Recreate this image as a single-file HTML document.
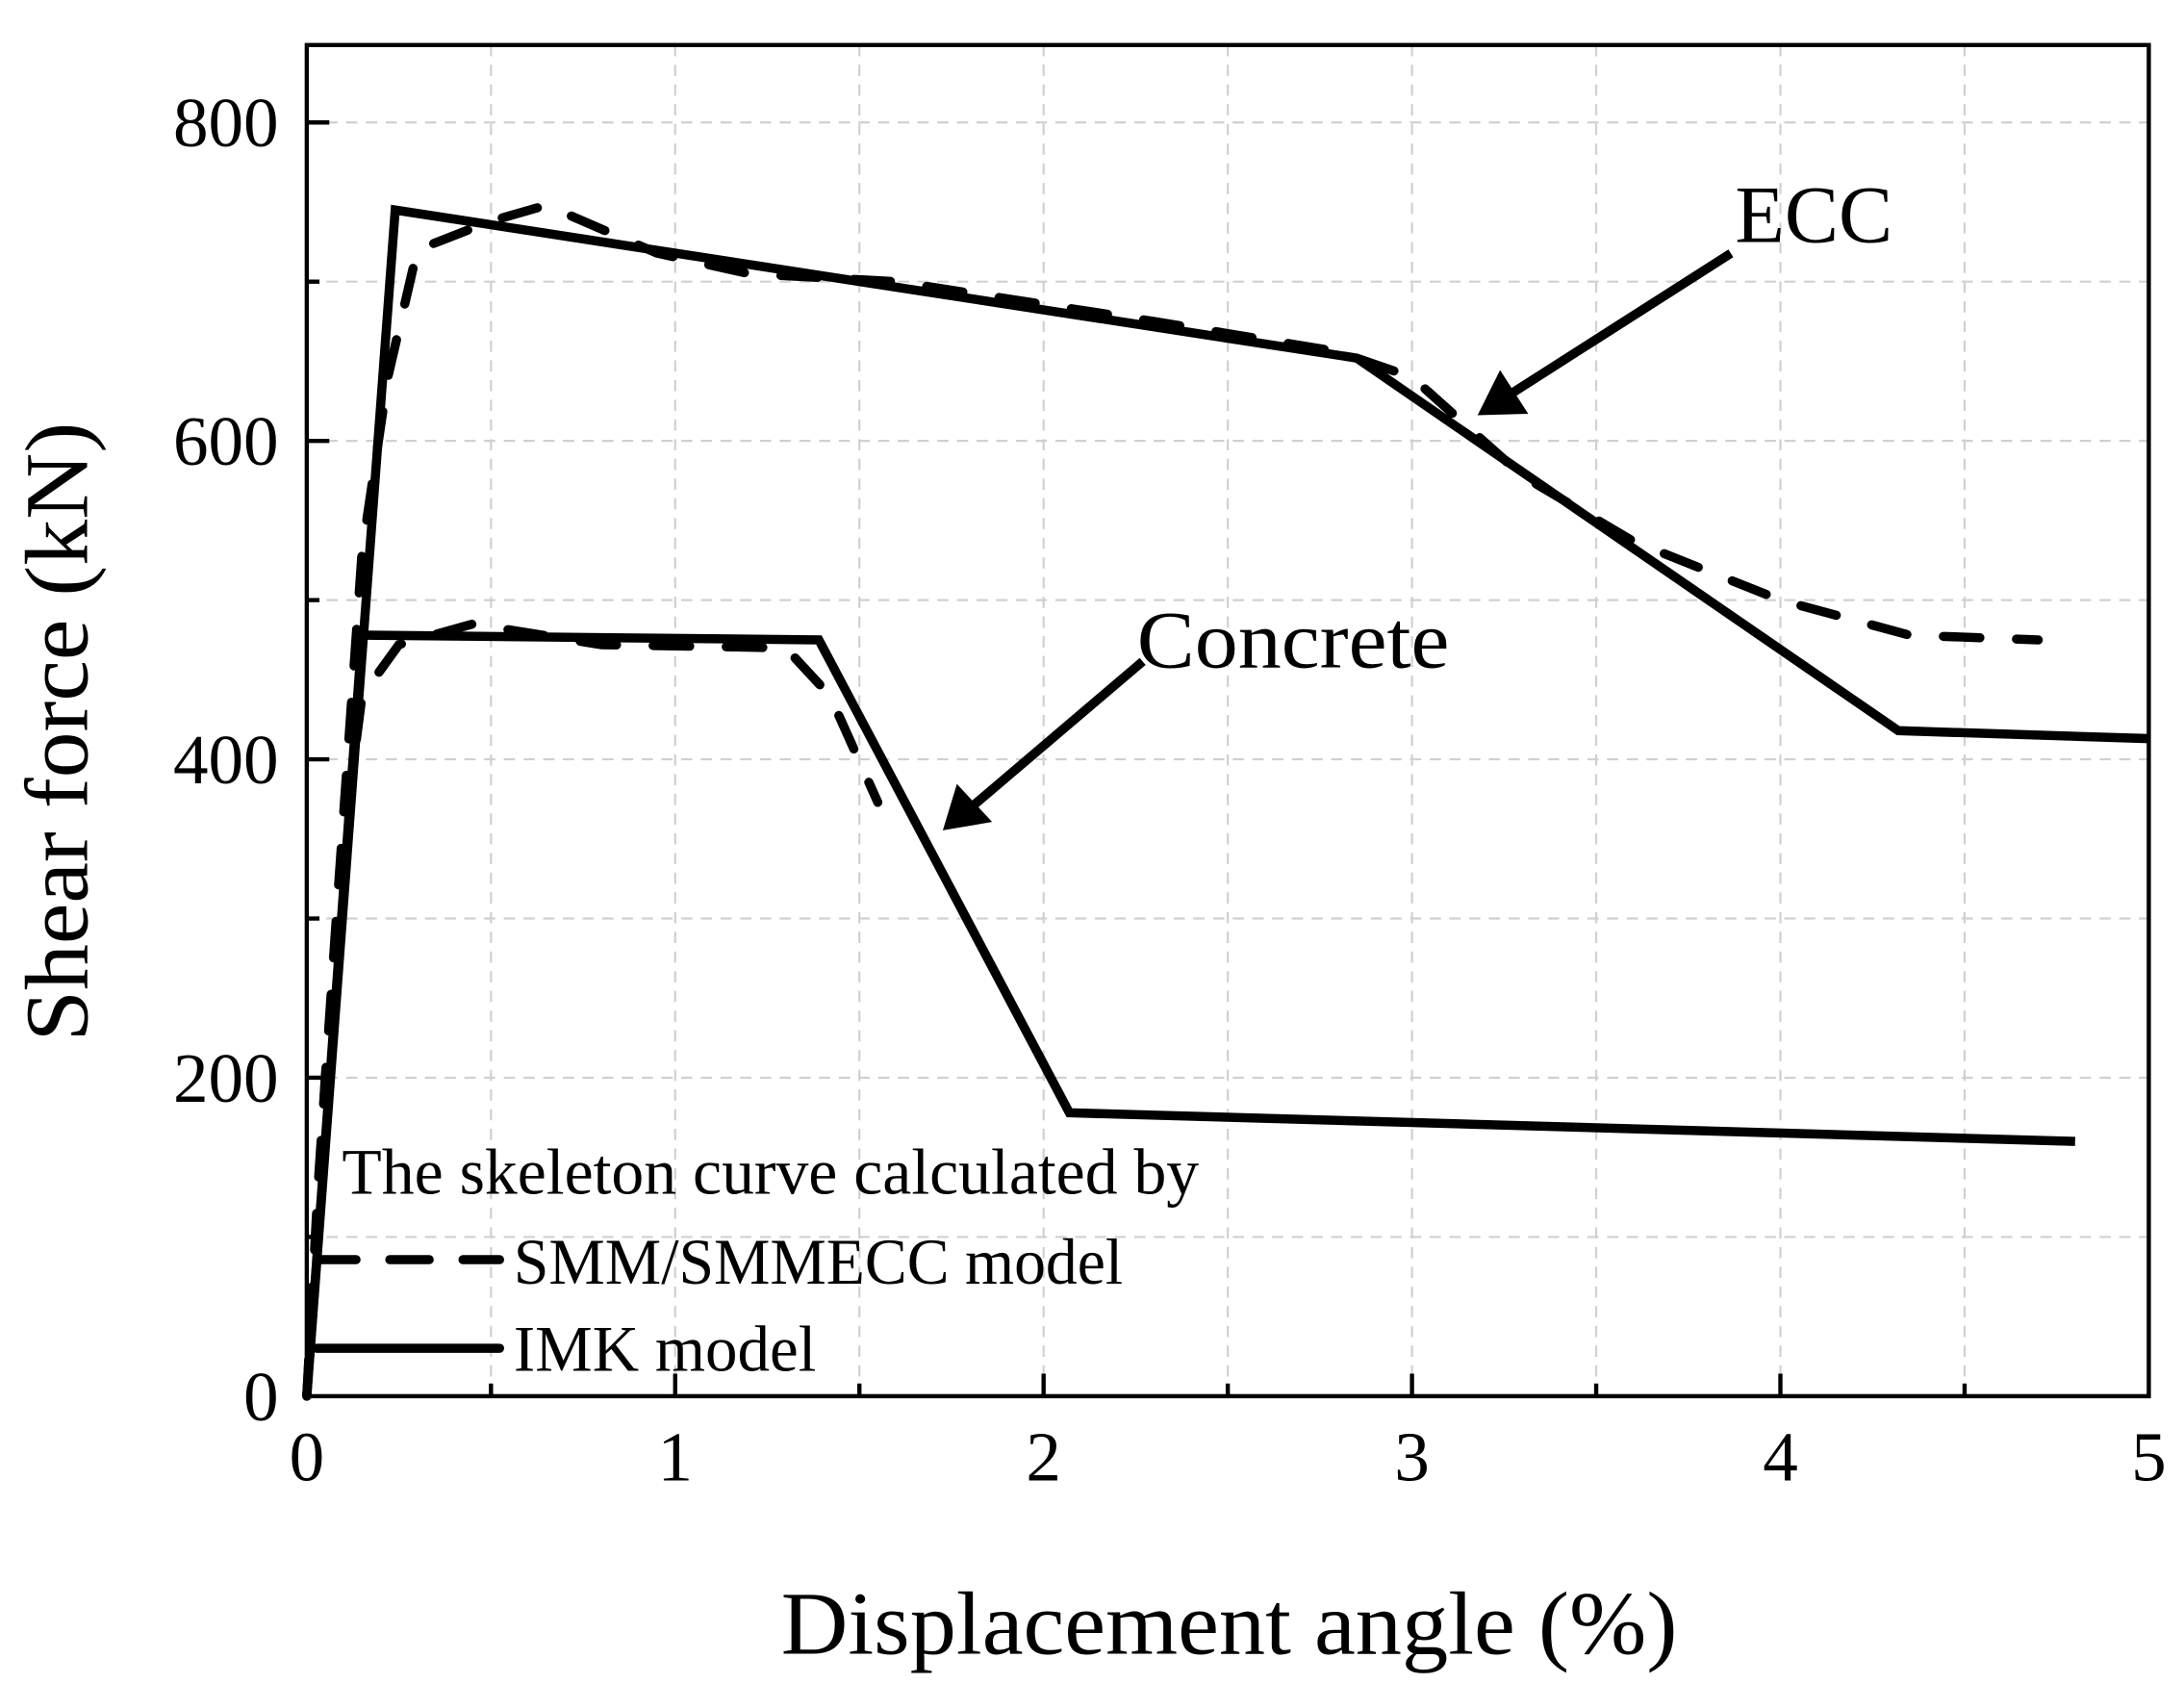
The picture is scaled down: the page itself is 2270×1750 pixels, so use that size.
<!DOCTYPE html>
<html><head><meta charset="utf-8"><style>
html,body{margin:0;padding:0;background:#fff;}
svg{display:block;font-family:"Liberation Serif",serif;}
</style></head><body>
<svg id="chart" width="2270" height="1750" viewBox="0 0 1552 1196.5" xmlns="http://www.w3.org/2000/svg">
<g id="grid"></g>
<g id="series"></g>
<g id="axes"></g>
<text x="555" y="1175" font-size="64" textLength="637" lengthAdjust="spacingAndGlyphs">Displacement angle (%)</text>
<text transform="translate(62,740) rotate(-90)" font-size="64" textLength="440" lengthAdjust="spacingAndGlyphs">Shear force (kN)</text>
<g>
<text x="243" y="848" font-size="46" textLength="609" lengthAdjust="spacingAndGlyphs">The skeleton curve calculated by</text>
<line x1="225" y1="895" x2="355" y2="895" stroke="#000" stroke-width="6.5" stroke-dasharray="28,24" stroke-linecap="round"/>
<text x="365" y="912" font-size="46" textLength="433" lengthAdjust="spacingAndGlyphs">SMM/SMMECC model</text>
<line x1="225" y1="958" x2="355" y2="958" stroke="#000" stroke-width="6.5" stroke-linecap="round"/>
<text x="365" y="974" font-size="46" textLength="215" lengthAdjust="spacingAndGlyphs">IMK model</text>
</g>
<g>
<text x="1233" y="172" font-size="58" textLength="112" lengthAdjust="spacingAndGlyphs">ECC</text>
<line x1="1230" y1="180" x2="1075" y2="279" stroke="#000" stroke-width="6.5"/>
<polygon points="1050,295 1066,263 1086,294" fill="#000"/>
</g>
<g>
<text x="808" y="474" font-size="58" textLength="222" lengthAdjust="spacingAndGlyphs">Concrete</text>
<line x1="812" y1="470" x2="692" y2="572" stroke="#000" stroke-width="6.5"/>
<polygon points="670,590 680,557 705,584" fill="#000"/>
</g>
</svg>
<script>
const xTicks = [0, 1, 2, 3, 4, 5];
const yTicks = [0, 200, 400, 600, 800];
const eccImkX = [0, 0.24, 2.85, 4.32, 5.0];
const eccImkY = [0, 745, 652, 418, 413];
const conImkX = [0, 0.15, 1.39, 2.07, 4.8];
const conImkY = [0, 478, 475, 178, 160];
const eccSmmX = [0, 0.03, 0.08, 0.15, 0.22, 0.3, 0.5, 0.65, 0.95, 1.2, 1.6, 2.3, 2.8, 3.0, 3.3, 3.6, 4.0, 4.35, 4.7];
const eccSmmY = [0, 130, 300, 530, 640, 720, 738, 748, 718, 705, 700, 675, 656, 640, 578, 537, 500, 478, 475];
const conSmmX = [0, 0.05, 0.1, 0.15, 0.25, 0.45, 0.8, 1.3, 1.42, 1.55];
const conSmmY = [0, 200, 350, 440, 472, 485, 472, 470, 440, 373];

const L = 218, R = 1527, T = 32, B = 992;
const xs = v => L + (R - L) * v / 5;
const ys = v => B - (B - 87) * v / 800;
const NS = 'http://www.w3.org/2000/svg';
function mk(tag, attrs, parent) {
  const e = document.createElementNS(NS, tag);
  for (const k in attrs) e.setAttribute(k, attrs[k]);
  parent.appendChild(e);
  return e;
}
const grid = document.getElementById('grid');
const axes = document.getElementById('axes');
const series = document.getElementById('series');

for (let v = 0.5; v < 5; v += 0.5) {
  const g = mk('line', {x1: xs(v), x2: xs(v), y1: T, y2: B, stroke: '#d0d0d0', 'stroke-width': 1.5, 'stroke-dasharray': '8,6'}, grid);
  
  
}
for (let v = 100; v < 860; v += 100) {
  const g = mk('line', {x1: L, x2: R, y1: ys(v), y2: ys(v), stroke: '#d0d0d0', 'stroke-width': 1.5, 'stroke-dasharray': '8,6'}, grid);
  
  
}

function poly(xa, ya, dashed, name) {
  const pts = xa.map((x, i) => xs(x) + ',' + ys(ya[i])).join(' ');
  const p = mk('polyline', {points: pts, fill: 'none', stroke: '#000', 'stroke-width': 6.5, 'stroke-linejoin': 'miter', 'stroke-linecap': dashed ? 'round' : 'butt'}, series);
  if (dashed) p.setAttribute('stroke-dasharray', '26,26');
  
  
}
poly(eccSmmX, eccSmmY, true, 'ecc-smm-line');
poly(conSmmX, conSmmY, true, 'concrete-smm-line');
poly(eccImkX, eccImkY, false, 'ecc-imk-line');
poly(conImkX, conImkY, false, 'concrete-imk-line');

const frame = mk('rect', {x: L, y: T, width: R - L, height: B - T, fill: 'none', stroke: '#000', 'stroke-width': 3}, axes);



for (let v = 0.5; v < 5; v += 0.5) {
  const major = Math.abs(v - Math.round(v)) < 1e-9;
  const t = mk('line', {x1: xs(v), x2: xs(v), y1: B, y2: B - (major ? 16 : 9), stroke: '#000', 'stroke-width': 3}, axes);
  
  
}
for (let v = 100; v < 860; v += 100) {
  const major = v % 200 === 0;
  const t = mk('line', {x1: L, x2: L + (major ? 16 : 9), y1: ys(v), y2: ys(v), stroke: '#000', 'stroke-width': 3}, axes);
  
  
}
xTicks.forEach(v => {
  const t = mk('text', {x: xs(v), y: 1052, 'font-size': 50, 'text-anchor': 'middle'}, axes);
  t.textContent = String(v);
  
  
});
yTicks.forEach(v => {
  const t = mk('text', {x: 198, y: ys(v) + 17, 'font-size': 50, 'text-anchor': 'end'}, axes);
  t.textContent = String(v);
  
  
});
</script>
</body></html>
